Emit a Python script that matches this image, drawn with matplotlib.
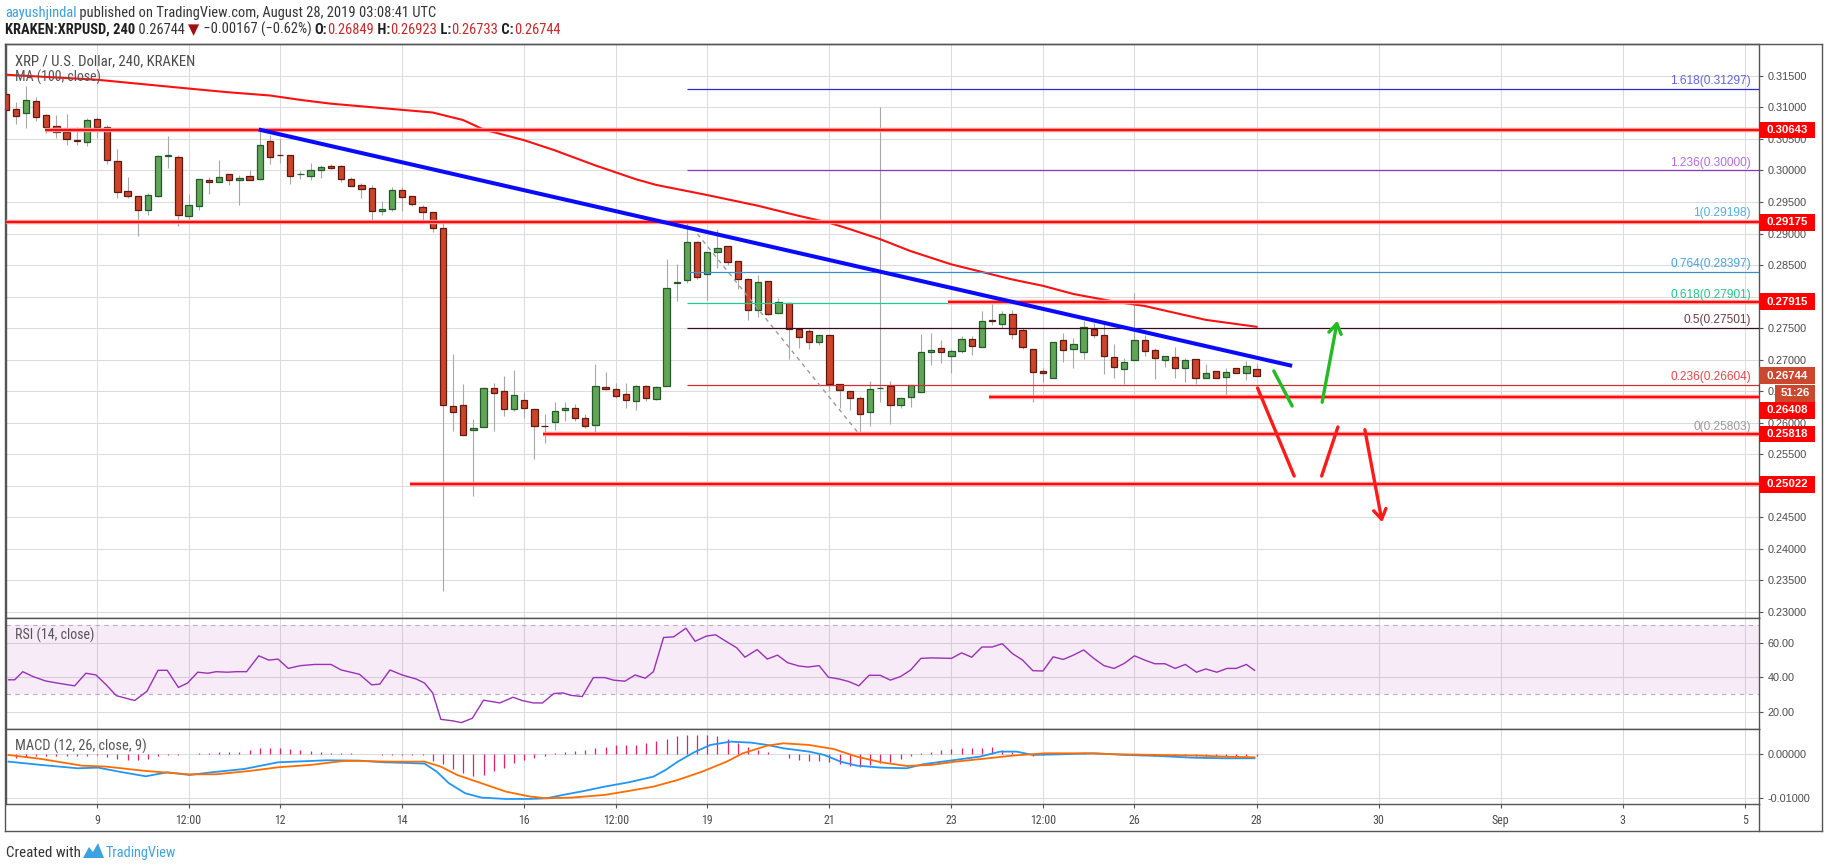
import os
import matplotlib
matplotlib.use("Agg")
import matplotlib.pyplot as plt
import numpy as np
from matplotlib import font_manager
from matplotlib.font_manager import FontProperties
from matplotlib.lines import Line2D
from matplotlib.patches import Rectangle, Polygon
from matplotlib.transforms import blended_transform_factory

# ---- data: 4h candles, index 0 = Aug 9 00:00, one step = 4 hours ----
first_idx = -9
opens = [0.3121, 0.30973, 0.30920, 0.31096, 0.30888, 0.30707, 0.30617, 0.30489, 0.30457,
         0.30824, 0.30691, 0.30154, 0.29675, 0.29595, 0.29372, 0.29595, 0.30234, 0.30218, 0.29276,
         0.29436, 0.29851, 0.29814, 0.29941, 0.29851, 0.29915, 0.29867, 0.30473, 0.30250, 0.30250,
         0.29941, 0.29915, 0.30010, 0.30064, 0.30064, 0.29867, 0.29771, 0.29723, 0.29351, 0.29388,
         0.29691, 0.29601, 0.29425, 0.29335, 0.29085, 0.26260, 0.26276, 0.25877, 0.25925, 0.26542,
         0.26499, 0.26212, 0.26356, 0.26223, 0.25950, 0.26004, 0.26196, 0.26239, 0.26079, 0.25957,
         0.26563, 0.26531, 0.26451, 0.26340, 0.26579, 0.26372, 0.26579, 0.28207, 0.28255, 0.28867,
         0.28351, 0.28707, 0.28798, 0.28558, 0.28271, 0.27792, 0.28244, 0.27739, 0.27899, 0.27489,
         0.27457, 0.27276, 0.27393, 0.26611, 0.26499, 0.26382, 0.26170, 0.26542, 0.26579, 0.26276,
         0.26404, 0.26489, 0.27122, 0.27186, 0.27064, 0.27138, 0.27330, 0.27202, 0.27633, 0.27569,
         0.27729, 0.27473, 0.27170, 0.26819, 0.26702, 0.27314, 0.27170, 0.27122, 0.27484, 0.27383,
         0.27042, 0.26851, 0.26995, 0.27314, 0.27154, 0.26995, 0.27042, 0.26862, 0.27011, 0.26702,
         0.26819, 0.26723, 0.26862, 0.26787, 0.26849]
highs = [0.3125, 0.31090, 0.31340, 0.31165, 0.30904, 0.30888, 0.30904, 0.30691, 0.30835,
         0.30851, 0.30718, 0.30346, 0.29904, 0.29595, 0.29643, 0.30240, 0.30543, 0.30250, 0.29627,
         0.29867, 0.29899, 0.30159, 0.29941, 0.29931, 0.30000, 0.30649, 0.30558, 0.30505, 0.30250,
         0.29984, 0.30122, 0.30090, 0.30100, 0.30080, 0.29893, 0.29798, 0.29771, 0.29510, 0.29744,
         0.29744, 0.29601, 0.29452, 0.29345, 0.29175, 0.27095, 0.26616, 0.26063, 0.26568, 0.26632,
         0.26744, 0.26840, 0.26488, 0.26233, 0.26138, 0.26329, 0.26329, 0.26302, 0.26143, 0.26935,
         0.26797, 0.26632, 0.26632, 0.26590, 0.26595, 0.26579, 0.28590, 0.28510, 0.29198, 0.28883,
         0.28707, 0.29069, 0.28798, 0.28558, 0.28298, 0.28340, 0.28244, 0.27978, 0.27899, 0.27489,
         0.27489, 0.27393, 0.27393, 0.26611, 0.26499, 0.26425, 0.26664, 0.31000, 0.26659, 0.26382,
         0.26595, 0.27404, 0.27414, 0.27313, 0.27170, 0.27367, 0.27367, 0.27777, 0.27883, 0.27777,
         0.27782, 0.27500, 0.27170, 0.26872, 0.27271, 0.27420, 0.27340, 0.27617, 0.27580, 0.27580,
         0.27245, 0.27021, 0.28059, 0.27383, 0.27191, 0.27058, 0.27207, 0.27021, 0.27011, 0.26936,
         0.26819, 0.26872, 0.26862, 0.26979, 0.26923]
lows = [0.3094, 0.30734, 0.30675, 0.30787, 0.30601, 0.30516, 0.30410, 0.30410, 0.30394,
        0.30516, 0.30106, 0.29558, 0.29558, 0.28957, 0.29292, 0.29580, 0.30042, 0.29122, 0.29218,
        0.29372, 0.29622, 0.29814, 0.29766, 0.29452, 0.29851, 0.29851, 0.30106, 0.30117, 0.29787,
        0.29867, 0.29851, 0.29883, 0.30030, 0.29814, 0.29750, 0.29558, 0.29186, 0.29298, 0.29361,
        0.29361, 0.29441, 0.29191, 0.29026, 0.23334, 0.25866, 0.25808, 0.24840, 0.25925, 0.25871,
        0.26106, 0.26186, 0.26074, 0.25425, 0.25680, 0.25888, 0.26020, 0.26020, 0.25914, 0.25808,
        0.26520, 0.26393, 0.26233, 0.26196, 0.26340, 0.26356, 0.26579, 0.27925, 0.28218, 0.28271,
        0.27952, 0.28457, 0.28500, 0.28127, 0.27633, 0.27675, 0.27712, 0.27739, 0.27005, 0.27180,
        0.27170, 0.27234, 0.26499, 0.26234, 0.26196, 0.25803, 0.25950, 0.26330, 0.25970, 0.26234,
        0.26250, 0.26489, 0.26914, 0.26952, 0.26782, 0.27101, 0.27074, 0.27202, 0.27543, 0.27500,
        0.27330, 0.27170, 0.26330, 0.26638, 0.26702, 0.26968, 0.26872, 0.27016, 0.27335, 0.26766,
        0.26702, 0.26606, 0.26995, 0.27064, 0.26691, 0.26888, 0.26713, 0.26638, 0.26606, 0.26702,
        0.26702, 0.26383, 0.26787, 0.26670, 0.26733]
closes = [0.3096, 0.30872, 0.31117, 0.30856, 0.30697, 0.30617, 0.30505, 0.30473, 0.30808,
          0.30697, 0.30170, 0.29659, 0.29595, 0.29372, 0.29611, 0.30234, 0.30240, 0.29292, 0.29452,
          0.29867, 0.29814, 0.29899, 0.29851, 0.29883, 0.29851, 0.30410, 0.30218, 0.30240, 0.29915,
          0.29950, 0.30010, 0.30058, 0.30040, 0.29867, 0.29760, 0.29707, 0.29351, 0.29388, 0.29691,
          0.29574, 0.29468, 0.29335, 0.29085, 0.26276, 0.26164, 0.25808, 0.25914, 0.26542, 0.26473,
          0.26223, 0.26435, 0.26228, 0.25941, 0.25941, 0.26180, 0.26239, 0.26079, 0.25941, 0.26579,
          0.26526, 0.26419, 0.26356, 0.26579, 0.26382, 0.26563, 0.28138, 0.28228, 0.28867, 0.28308,
          0.28707, 0.28776, 0.28548, 0.28271, 0.27792, 0.28228, 0.27723, 0.27915, 0.27489, 0.27356,
          0.27276, 0.27393, 0.26611, 0.26515, 0.26382, 0.26132, 0.26531, 0.26547, 0.26276, 0.26382,
          0.26595, 0.27127, 0.27148, 0.27117, 0.27128, 0.27330, 0.27218, 0.27617, 0.27617, 0.27729,
          0.27410, 0.27202, 0.26803, 0.26787, 0.27271, 0.27149, 0.27250, 0.27511, 0.27388, 0.27058,
          0.26883, 0.26968, 0.27314, 0.27138, 0.27021, 0.27058, 0.26862, 0.26995, 0.26702, 0.26782,
          0.26702, 0.26803, 0.26787, 0.26899, 0.26744]

# MA(100)
ma_idx = [-9, 0, 9, 13, 17, 20, 23, 28, 33, 36, 38, 42, 45, 49, 53, 55, 60, 65, 69, 72, 74,
          77, 80, 84, 86, 90, 93, 96, 100, 103, 106, 109, 114]
ma_val = [0.3152, 0.3144, 0.3130, 0.3124, 0.3119, 0.3112, 0.3106, 0.3099, 0.3092, 0.3080, 0.3065,
          0.3048, 0.3032, 0.3008, 0.2986, 0.2977, 0.2961, 0.2944, 0.2928, 0.2917, 0.2907,
          0.2891, 0.2872, 0.2851, 0.2843, 0.2827, 0.2817, 0.2804, 0.2792, 0.2785, 0.2774, 0.2763, 0.2752]

# RSI(14)
rsi_idx = [-8.7, -8.1, -7.3, -6.3, -5.1, -3.9, -2.2, -1.1, -0.1, 0.9,
           1.9, 3.7, 4.9, 6.0, 6.9, 8.0, 8.9, 9.9, 10.9, 11.7,
           12.8, 13.7, 14.7, 15.9, 16.9, 17.8, 18.8, 20.0, 21.4, 23.0,
           24.0, 25.8, 27.0, 27.8, 28.8, 30.0, 31.4, 32.2, 33.0, 33.8,
           35.0, 35.8, 36.9, 38.0, 39.0, 39.6, 40.9, 41.8, 42.9, 43.8,
           44.9, 45.8, 46.6, 47.7, 48.8, 49.9, 50.8, 51.9, 52.9, 53.9,
           54.7, 55.7, 56.7, 57.9, 58.8, 59.9, 60.8, 61.7, 62.9, 63.7,
           64.9, 65.9, 66.9, 67.9, 69.0, 69.9, 71.0, 71.9, 73.0, 73.9,
           74.9, 75.9, 77.0, 78.0, 79.0, 80.0, 81.0, 82.0, 84.0, 85.0,
           86.0, 87.0, 88.0, 89.0, 90.0, 91.0, 92.0, 93.0, 94.0, 95.0,
           96.0, 97.0, 98.0, 99.0, 100.0, 101.0, 102.0, 103.1, 104.0, 105.0,
           106.0, 107.0, 108.1, 109.0, 110.1, 111.1, 112.0, 113.0, 113.8]
rsi_val = [38.5, 38.5, 43.2, 40.4, 37.9, 36.6, 35.0, 42.3, 41.3, 35.6,
           29.3, 26.5, 31.8, 44.0, 44.0, 34.1, 36.6, 42.9, 42.3, 43.2,
           42.9, 43.2, 43.2, 52.4, 49.9, 50.5, 45.1, 46.7, 47.4, 47.4,
           44.2, 41.7, 35.6, 36.0, 44.2, 41.3, 38.9, 36.6, 30.9, 15.6,
           14.7, 13.7, 16.2, 26.7, 25.7, 25.1, 28.4, 26.5, 25.1, 25.1,
           30.5, 30.9, 29.5, 28.8, 39.8, 39.8, 38.3, 37.7, 41.3, 39.4,
           43.2, 63.0, 63.4, 68.4, 60.8, 63.8, 64.6, 61.3, 57.0, 51.6,
           56.0, 50.5, 52.8, 48.4, 46.5, 45.9, 46.7, 40.0, 38.9, 37.5,
           35.0, 41.1, 41.1, 38.3, 40.4, 44.2, 50.9, 51.2, 50.9, 54.1,
           51.6, 57.5, 57.5, 59.4, 53.7, 49.9, 43.8, 43.6, 51.8, 50.3,
           52.8, 55.8, 50.9, 46.7, 45.1, 48.0, 52.4, 49.7, 47.8, 47.8,
           45.1, 47.4, 42.9, 44.8, 42.9, 45.1, 45.1, 47.4, 44.0]

# MACD (12, 26, 9), units of 0.001
macd_idx = [-8.7, -5.5, -1.9, 0.1, 2.5, 4.8, 6.9, 9.1, 11.3, 14.5, 17.8, 21.0, 22.6, 25.8, 28.2,
            30.6, 32.2, 33.4, 34.6, 36.2, 37.8, 40.2, 42.6, 44.2, 45.8, 47.9, 49.9, 52.3, 54.7,
            55.9, 57.1, 58.7, 60.3, 62.3, 64.3, 65.9, 67.5, 70.0, 71.5, 73.1, 74.7, 77.1, 79.6,
            81.2, 83.6, 86.8, 88.8, 90.4, 92.0, 94.8, 98.0, 101.2, 104.4, 107.6, 110.9, 113.8]
macd_val = [-1.67, -2.42, -3.18, -3.03, -4.09, -5.0, -4.09, -4.70, -4.09, -3.33, -1.82, -1.52,
            -1.36, -1.44, -1.82, -1.97, -2.12, -3.94, -6.59, -8.86, -9.85, -10.15, -10.15, -10.0,
            -9.24, -8.33, -7.35, -6.36, -5.08, -3.56, -1.67, 0.45, 2.12, 2.88, 2.65, 2.12, 1.36,
            0.61, -0.15, -1.67, -2.58, -3.03, -3.18, -2.27, -1.52, -0.53, 0.61, 0.61, -0.15, 0.0,
            0.23, -0.15, -0.38, -0.76, -0.91, -0.91]
signal_idx = [-8.7, -5.5, -1.5, 0.9, 4.8, 9.0, 11.7, 15.0, 17.8, 21.0, 24.2, 25.8, 29.0, 32.2,
              33.8, 35.4, 37.8, 40.2, 42.6, 44.2, 46.6, 49.9, 52.3, 54.7, 57.1, 59.5, 61.9, 63.5,
              65.9, 67.5, 70.0, 72.4, 74.7, 77.1, 79.6, 82.0, 84.4, 87.6, 90.0, 93.2, 97.2, 100.4,
              104.4, 108.4, 110.9, 113.8]
signal_val = [-0.15, -1.06, -2.58, -2.80, -3.79, -4.55, -4.55, -3.79, -2.95, -2.42, -1.52, -1.52,
              -1.67, -1.67, -2.80, -4.70, -6.59, -8.48, -9.62, -10.0, -9.85, -9.24, -8.33, -7.35,
              -5.83, -3.94, -1.67, 0.23, 1.97, 2.50, 2.12, 1.21, -0.53, -1.82, -2.65, -2.42, -1.67,
              -0.91, -0.30, 0.23, 0.23, 0.0, -0.15, -0.30, -0.53, -0.68]
hist_val = [-0.9, -0.8, -0.6, -0.5, -0.5, -0.4, -0.4, -0.5, -0.3,
            -0.2, -0.6, -1.0, -1.2, -1.3, -1.1, -0.5, -0.2, -0.1, 0.0,
            0.2, 0.4, 0.5, 0.6, 0.6, 1.0, 1.4, 1.4, 1.4, 1.3,
            1.0, 0.8, 0.6, 0.4, 0.3, 0.2, 0.1, 0.0, -0.1, -0.1,
            -0.1, -0.2, -0.2, -1.5, -2.3, -3.3, -4.2, -5.0, -4.6, -3.9,
            -3.2, -2.0, -1.3, -0.8, -0.5, 0.2, 0.5, 0.8, 1.0, 1.4,
            1.7, 2.0, 2.0, 2.1, 2.5, 3.0, 3.5, 4.2, 4.4, 4.4,
            4.4, 4.2, 3.5, 2.5, 1.7, 1.0, 0.5, 0.0, -0.8, -1.3,
            -1.5, -1.5, -1.7, -2.3, -2.6, -2.8, -2.4, -2.0, -1.7, -1.1,
            -0.5, 0.2, 0.5, 1.0, 1.1, 1.4, 1.4, 1.5, 1.6, 1.0,
            0.6, 0.0, -0.3, -0.1, 0.0, 0.1, 0.1, 0.2, 0.1, 0.1,
            0.0, -0.1, -0.2, -0.2, -0.3, -0.3, -0.3, -0.4, -0.5, -0.4,
            -0.4, -0.3, -0.3, -0.3, -0.4]

# drawings
red_levels = [0.30643, 0.29175, 0.27915, 0.26408, 0.25818, 0.25022]
red_starts = [-5.1, -9.0, 83.7, 87.7, 43.8, 30.8]
tag_shift = [0, 0, 0, 13.5, 0, 0]   # px the scale label is pushed down to avoid overlap
trend_idx = [15.9, 117.5]
trend_val = [0.3065, 0.2690]
fib_ratio = ['1.618', '1.236', '1', '0.764', '0.618', '0.5', '0.236', '0']
fib_price = [0.31297, 0.30000, 0.29198, 0.28397, 0.27901, 0.27501, 0.26604, 0.25803]
fib_line_col = ['#2b2bd6', '#8a35c2', '#3a8fd0', '#3a8fd0', '#1fcf8f', '#3a0d1c', '#d03030', '#8c8c8c']
fib_text_col = ['#6464dc', '#b36de0', '#55aee6', '#4aa3dc', '#25c486', '#6e3a48', '#e04848', '#9a9a9a']
fib_from = 58
swing_idx = [58, 75]
swing_val = [0.29198, 0.25803]
green_path = [(115.7, 0.26818), (117.5, 0.26263), (120.4, 0.26279), (122.0, 0.2766)]
red_path = [(114.1, 0.26549), (117.7, 0.25152), (120.4, 0.25152), (122.0, 0.2593),
            (124.6, 0.2593), (126.4, 0.24375)]

tick_pos = [0, 9, 18, 30, 42, 51, 60, 72, 84, 93, 102, 114, 126, 138, 150, 162]
tick_lab = ['9', '12:00', '12', '14', '16', '12:00', '19', '21', '23', '12:00', '26', '28',
            '30', 'Sep', '3', '5']

# ---- fonts: a narrow face for the TradingView UI text if one is installed ----
plt.rcParams['font.family'] = ['Liberation Sans', 'DejaVu Sans']
files = {os.path.basename(f.fname).lower().replace('-', '').replace('_', ''): f.fname
         for f in font_manager.fontManager.ttflist}
nar_reg = nar_bold = None
for reg, bold in [('liberationsansnarrowregular.ttf', 'liberationsansnarrowbold.ttf'),
                  ('robotocondensedregular.ttf', 'robotocondensedbold.ttf'),
                  ('dejavusanscondensed.ttf', 'dejavusanscondensedbold.ttf')]:
    if reg in files:
        nar_reg = FontProperties(fname=files[reg])
        nar_bold = FontProperties(fname=files[bold]) if bold in files else nar_reg
        break
if nar_reg is None:
    nar_reg = FontProperties(family='Liberation Sans')
    nar_bold = FontProperties(family='Liberation Sans', weight='bold')
sym_fp = FontProperties(family='DejaVu Sans')   # has the ▼ glyph

# ---- figure ----
W, H = 1828, 868
fig = plt.figure(figsize=(W / 100, H / 100), dpi=100)
renderer = fig.canvas.get_renderer()


def fx(px):
    return px / W


def fy(py):
    return 1 - py / H


def fit_text(x, y, s, width, color, fp=None, **kw):
    fp = (fp or nar_reg).copy()
    fp.set_size(10)
    t = fig.text(fx(x), fy(y), s, color=color, fontproperties=fp, va='baseline', **kw)
    w = t.get_window_extent(renderer).width
    fp.set_size(10 * width / w)
    t.set_fontproperties(fp)
    return t


y_lo, y_hi = 0.22899, 0.32007
xl = (-8.95, 163.4)
ax = fig.add_axes([fx(6), fy(618), fx(1759) - fx(6), (618 - 44) / H])
rsi = fig.add_axes([fx(6), fy(729), fx(1759) - fx(6), (729 - 618) / H], sharex=ax)
mac = fig.add_axes([fx(6), fy(804), fx(1759) - fx(6), (804 - 729) / H], sharex=ax)

for a in (ax, rsi, mac):
    a.set_axisbelow(True)
    a.grid(True, color='#dcdcdc', lw=0.75)
    a.yaxis.tick_right()
    a.tick_params(axis='y', direction='out', length=3, width=0.8, color='#555555',
                  labelcolor='#4a4a4a', labelsize=7.8, pad=3)
    a.tick_params(axis='x', length=0, labelbottom=False)
    for s in a.spines.values():
        s.set_color('#555555')
        s.set_linewidth(1.0)

ax.set_xlim(*xl)
ax.set_ylim(y_lo, y_hi)
ax.set_yticks(np.arange(0.230, 0.3151, 0.005))
ax.yaxis.set_major_formatter(matplotlib.ticker.FormatStrFormatter('%.5f'))
xfp = nar_reg.copy()
xfp.set_size(8.6)
mac.set_xticks(tick_pos, tick_lab, fontproperties=xfp)
mac.tick_params(axis='x', length=3, width=0.8, direction='out', labelbottom=True,
                labelcolor='#4a4a4a', pad=4, color='#555555')

# candles
o = np.array(opens); h = np.array(highs); l = np.array(lows); c = np.array(closes)
idx = np.arange(first_idx, first_idx + len(o))
up = c >= o
ax.vlines(idx, l, h, color='#a8a8a8', lw=0.8, zorder=2)
body_h = np.maximum(np.abs(c - o), 0.00005)
ax.bar(idx, body_h, bottom=np.minimum(o, c), width=0.62,
       color=np.where(up, '#63a557', '#cc4429'),
       edgecolor=np.where(up, '#235a2b', '#5e1a12'), linewidth=0.9, zorder=3)

ax.plot(ma_idx, ma_val, color='#ff1010', lw=1.5, zorder=4)

# fib retracement
for r, p, lc, tc in zip(fib_ratio, fib_price, fib_line_col, fib_text_col):
    ax.hlines(p, fib_from, xl[1], color=lc, lw=0.9, zorder=4)
    ax.text(162.6, p + 0.0003, f'{r}({p:.5f})', color=tc, fontsize=8.6, ha='right',
            va='bottom', zorder=7)
ax.plot(swing_idx, swing_val, color='#9a9a9a', lw=1.0, ls=(0, (3, 3)), zorder=4)

# support / resistance rays
for v, s in zip(red_levels, red_starts):
    ax.hlines(v, s, xl[1], color='#ff9a9a', lw=3.2, zorder=5)
    ax.hlines(v, s, xl[1], color='#ff0d0d', lw=1.5, zorder=5)

ax.plot(trend_idx, trend_val, color='#0a0aff', lw=2.9, zorder=6, solid_capstyle='butt')

# scenario arrows
gp = np.array(green_path)
ax.plot(gp[:2, 0], gp[:2, 1], color='#22bb22', lw=2.4, zorder=8, solid_capstyle='round')
ax.annotate('', xy=gp[3], xytext=gp[2], zorder=8,
            arrowprops=dict(arrowstyle='->,head_length=0.7,head_width=0.45', color='#22bb22', lw=2.4))
rp = np.array(red_path)
ax.plot(rp[:2, 0], rp[:2, 1], color='#ff1a1a', lw=2.4, zorder=8, solid_capstyle='round')
ax.plot(rp[2:4, 0], rp[2:4, 1], color='#ff1a1a', lw=2.4, zorder=8, solid_capstyle='round')
ax.annotate('', xy=rp[5], xytext=rp[4], zorder=8,
            arrowprops=dict(arrowstyle='->,head_length=0.7,head_width=0.45', color='#ff1a1a', lw=2.4))

# RSI panel
rsi.set_ylim(10.0, 74.3)
rsi.set_yticks([20, 40, 60])
rsi.yaxis.set_major_formatter(matplotlib.ticker.FormatStrFormatter('%.2f'))
rsi.axhspan(30, 70, color='#9c27b0', alpha=0.09, lw=0, zorder=1)
for lv in (30, 70):
    rsi.axhline(lv, color='#bfa6cc', lw=0.8, ls=(0, (4, 4)), zorder=1.5)
rsi.plot(rsi_idx, rsi_val, color='#9b30b8', lw=1.0, zorder=3)

# MACD panel
mac.set_ylim(-0.0113, 0.00575)
mac.set_yticks([-0.01, 0.0])
mac.yaxis.set_major_formatter(matplotlib.ticker.FormatStrFormatter('%.5f'))
mac.vlines(idx, 0, np.array(hist_val) * 0.001, color='#e91e63', lw=0.9, zorder=2)
mac.plot(macd_idx, np.array(macd_val) * 0.001, color='#2196f3', lw=1.3, zorder=3)
mac.plot(signal_idx, np.array(signal_val) * 0.001, color='#ff6d00', lw=1.3, zorder=3)

# price tags on the scale
trans_tag = blended_transform_factory(fig.transFigure, ax.transData)
dpp = (y_hi - y_lo) / (618 - 44)


def tag(price, text, color, x0=1759, x1=1815, shift=0.0):
    yc = price - shift * dpp
    fig.add_artist(Rectangle((fx(x0), yc - 8.4 * dpp), fx(x1) - fx(x0), 16.8 * dpp,
                             transform=trans_tag, facecolor=color, edgecolor='none', zorder=20))
    fig.text((fx(x0) + fx(x1)) / 2, yc, text, transform=trans_tag, ha='center', va='center',
             color='white', fontsize=8.2, weight='bold', zorder=21)


for v, sh in zip(red_levels, tag_shift):
    tag(v, f'{v:.5f}', '#ff0000', shift=sh)
tag(closes[-1], f'{closes[-1]:.5f}', '#c9482e')
tag(closes[-1], '51:26', '#c9482e', x0=1775, shift=17.7)

# frame
frame = [((5, 44), (1822, 44)), ((1822, 44), (1822, 831)), ((5, 831), (1822, 831)),
         ((5, 44), (5, 831)), ((1759, 804), (1759, 831))]
for (x0, y0), (x1, y1) in frame:
    fig.add_artist(Line2D([fx(x0), fx(x1)], [fy(y0), fy(y1)], color='#555555', lw=1.0))

# legends inside panels
fit_text(15, 65, 'XRP / U.S. Dollar, 240, KRAKEN', 180, '#4a4a4a')
fit_text(15, 82, 'MA (100, close)', 86, '#555555')
fit_text(15, 640, 'RSI (14, close)', 79, '#555555')
fit_text(15, 751, 'MACD (12, 26, close, 9)', 132, '#555555')


# header: pieces laid out left to right, scaled to the reference line length
def run(x, y, parts, end):
    texts = []
    for s, col, kind in parts:
        base = {'r': nar_reg, 'b': nar_bold, 's': sym_fp}[kind]
        fp = base.copy()
        fp.set_size(10)
        texts.append(fig.text(0, fy(y), s, color=col, fontproperties=fp, va='baseline'))
    total = sum(t.get_window_extent(renderer).width for t in texts)
    k = (end - x) / total
    for t in texts:
        fp = t.get_fontproperties().copy()
        fp.set_size(10 * k)
        t.set_fontproperties(fp)
        t.set_x(fx(x))
        x += t.get_window_extent(renderer).width


run(5, 17, [('aayushjindal', '#3a9fdc', 'r'),
            (' published on TradingView.com, August 28, 2019 03:08:41 UTC', '#333333', 'r')], 433)
red_t = '#c62828'
run(5, 34, [('KRAKEN:XRPUSD, 240', '#1e1e1e', 'b'), (' 0.26744 ', '#333333', 'r'),
            ('▼', '#a01010', 's'), (' −0.00167 (−0.62%) ', '#333333', 'r'),
            ('O:', '#1e1e1e', 'b'), ('0.26849', red_t, 'r'),
            (' H:', '#1e1e1e', 'b'), ('0.26923', red_t, 'r'),
            (' L:', '#1e1e1e', 'b'), ('0.26733', red_t, 'r'),
            (' C:', '#1e1e1e', 'b'), ('0.26744', red_t, 'r')], 557)

# footer
fit_text(6, 857, 'Created with', 74, '#333333')
logo = [(83, 858), (89, 847), (93, 852), (98, 843), (104, 858)]
fig.add_artist(Polygon([(fx(a), fy(b)) for a, b in logo], closed=True, facecolor='#3ba3e0',
                       edgecolor='none'))
fit_text(106, 857, 'TradingView', 70, '#3ba3e0')

fig.savefig('out.png', dpi=100, facecolor='white')
